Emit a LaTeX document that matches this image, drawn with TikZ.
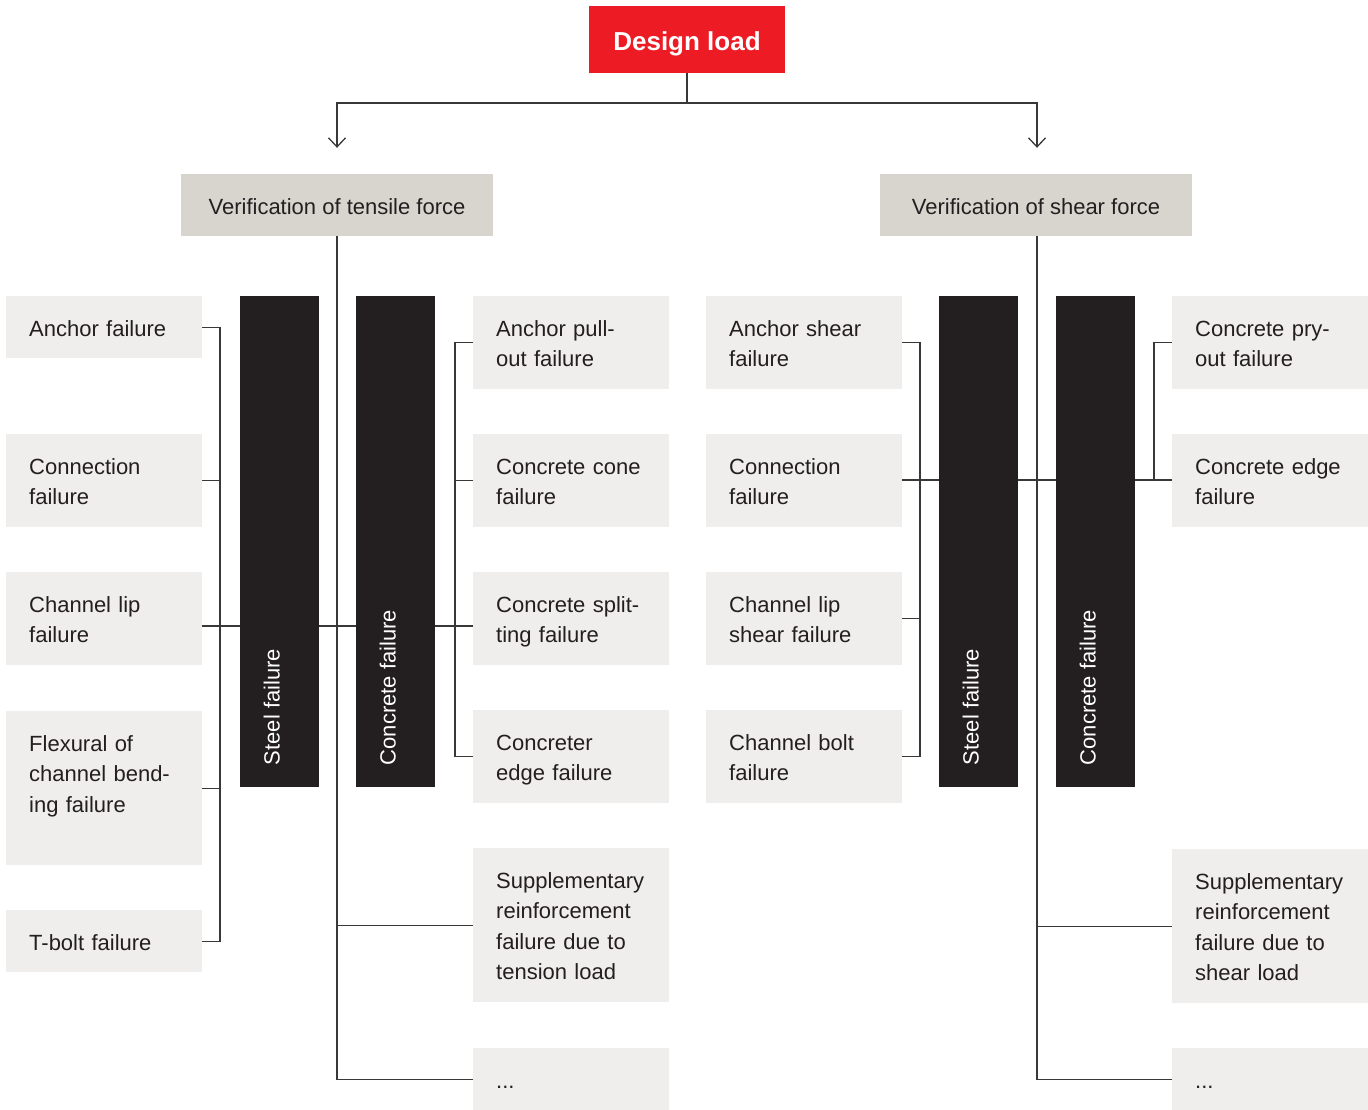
\documentclass[tikz,border=0pt]{standalone}
\usepackage{fontspec}
\setmainfont{Liberation Sans}
\usetikzlibrary{arrows.meta,calc}
\definecolor{dlred}{HTML}{ED1C24}
\definecolor{hdrgray}{HTML}{D8D5CF}
\definecolor{itemgray}{HTML}{EFEEEC}
\definecolor{barblack}{HTML}{231F20}
\definecolor{linegray}{HTML}{383838}
\definecolor{txt}{HTML}{231F20}
\pgfdeclarelayer{background}
\pgfsetlayers{background,main}
\newcommand{\vs}{\rule[-6.25pt]{0pt}{30.5pt}}
\begin{document}
\begin{tikzpicture}[x=1pt,y=-1pt,
  every node/.style={font=\fontsize{22pt}{30.5pt}\selectfont, text=txt},
  item/.style={fill=itemgray, anchor=north west, text width=150pt, inner xsep=23pt, inner ysep=0pt, minimum width=196pt, align=left},
  hdr/.style={fill=hdrgray, minimum width=312pt, minimum height=62pt, inner sep=0pt, text height=18pt, text depth=0pt},
  barbox/.style={fill=barblack, anchor=north west, minimum width=79pt, minimum height=491pt, inner sep=0pt},
  bartext/.style={text=white, rotate=90, anchor=base west, inner sep=0pt},
  conn/.style={draw=linegray, line width=1.3pt},
  arr/.style={conn, -{Straight Barb[length=9pt,width=17pt,line width=1.3pt]}}
]
\useasboundingbox (0,0) rectangle (1368,1109);

% top
\node[fill=dlred, minimum width=196pt, minimum height=67pt, inner sep=0pt, text=white, text height=25pt, text depth=4pt, font=\fontsize{26pt}{30pt}\selectfont\bfseries] (design) at (687,39.5) {Design load};
\node[hdr] (tens) at (337,205) {Verification of tensile force};
\node[hdr] (shear) at (1036,205) {Verification of shear force};

% tensile: left column
\node[item, minimum height=62pt] (aF) at (6,296) {\vs Anchor failure};
\node[item, minimum height=93pt] (cF) at (6,434) {\vs Connection\\\vs failure};
\node[item, minimum height=93pt] (clF) at (6,572) {\vs Channel lip\\\vs failure};
\node[item, minimum height=154pt] (fF) at (6,711) {\vs Flexural of\\\vs channel bend-\\\vs ing failure\\\vs};
\node[item, minimum height=62pt] (tB) at (6,910) {\vs T-bolt failure};

% tensile bars
\node[barbox] (tsteel) at (240,296) {};
\node[barbox] (tconc) at (356,296) {};
\node[bartext] (tsteelT) at ($(tsteel.south)+(0,-22)$) {Steel failure};
\node[bartext] (tconcT) at ($(tconc.south)+(0,-22)$) {Concrete failure};

% tensile: right column
\node[item, minimum height=93pt] (apF) at (473,296) {\vs Anchor pull-\\\vs out failure};
\node[item, minimum height=93pt] (ccF) at (473,434) {\vs Concrete cone\\\vs failure};
\node[item, minimum height=93pt] (csF) at (473,572) {\vs Concrete split-\\\vs ting failure};
\node[item, minimum height=93pt] (ceF) at (473,710) {\vs Concreter\\\vs edge failure};
\node[item, minimum height=154pt] (srT) at (473,848) {\vs Supplementary\\\vs reinforcement\\\vs failure due to\\\vs tension load};
\node[item, minimum height=62pt] (dT) at (473,1048) {\vs ...};

% shear: left column
\node[item, minimum height=93pt] (asF) at (706,296) {\vs Anchor shear\\\vs failure};
\node[item, minimum height=93pt] (scF) at (706,434) {\vs Connection\\\vs failure};
\node[item, minimum height=93pt] (clsF) at (706,572) {\vs Channel lip\\\vs shear failure};
\node[item, minimum height=93pt] (cbF) at (706,710) {\vs Channel bolt\\\vs failure};

% shear bars
\node[barbox] (ssteel) at (939,296) {};
\node[barbox] (sconc) at (1056,296) {};
\node[bartext] (ssteelT) at ($(ssteel.south)+(0,-22)$) {Steel failure};
\node[bartext] (sconcT) at ($(sconc.south)+(0,-22)$) {Concrete failure};

% shear: right column
\node[item, minimum height=93pt] (cpF) at (1172,296) {\vs Concrete pry-\\\vs out failure};
\node[item, minimum height=93pt] (cedF) at (1172,434) {\vs Concrete edge\\\vs failure};
\node[item, minimum height=154pt] (srS) at (1172,849) {\vs Supplementary\\\vs reinforcement\\\vs failure due to\\\vs shear load};
\node[item, minimum height=62pt] (dS) at (1172,1048) {\vs ...};

% helper coordinates
\coordinate (topy) at (0,103);
\coordinate (tlb) at (220,0);
\coordinate (trb) at (455,0);
\coordinate (th) at (0,626);
\coordinate (slb) at (920,0);
\coordinate (srb) at (1154,0);
\coordinate (sh) at (0,480);

\begin{pgfonlayer}{background}
% top connectors
\draw[conn] (design.south) -- (design.south |- topy);
\draw[arr] (design.south |- topy) -| ($(tens.north)+(0,-26)$);
\draw[arr] (design.south |- topy) -| ($(shear.north)+(1,-26)$);

% tensile
\draw[conn] (aF.east) -- (aF.east -| tlb) -- (tB.east -| tlb) -- (tB.east);
\draw[conn] (cF.east) -- (cF.east -| tlb);
\draw[conn] (fF.east) -- (fF.east -| tlb);
\draw[conn] (clF.east |- th) -- (csF.west |- th);
\draw[conn] (apF.west) -- (apF.west -| trb) -- (ceF.west -| trb) -- (ceF.west);
\draw[conn] (ccF.west) -- (ccF.west -| trb);
\draw[conn] (tens.south) |- (dT.west);
\draw[conn] (tens.south |- srT.west) -- (srT.west);

% shear
\draw[conn] (asF.east) -- (asF.east -| slb) -- (cbF.east -| slb) -- (cbF.east);
\draw[conn] (clsF.east) -- (clsF.east -| slb);
\draw[conn] (scF.east |- sh) -- (cedF.west |- sh);
\draw[conn] (cpF.west) -- (cpF.west -| srb) -- (cedF.west -| srb);
\draw[conn] ($(shear.south)+(1,0)$) |- (dS.west);
\draw[conn] ($(shear.south |- srS.west)+(1,0)$) -- (srS.west);
\end{pgfonlayer}
\end{tikzpicture}
\end{document}
